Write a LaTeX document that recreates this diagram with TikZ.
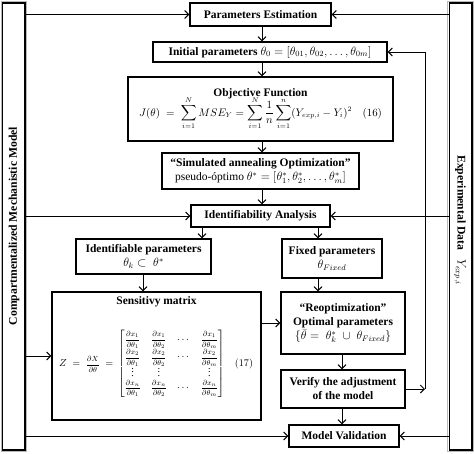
\documentclass[tikz,border=0pt]{standalone}
\usepackage{amsmath}
\usepackage{graphicx}
\usepackage{fontspec}
\setmainfont{Liberation Serif}
\usetikzlibrary{arrows.meta}
\newcommand{\pfr}[2]{\text{\fontsize{8.5}{10}\selectfont$\dfrac{#1}{#2}$}}
\begin{document}
\begin{tikzpicture}[x=1pt,y=-1pt,
  box/.style={draw, line width=1.3pt, rectangle, inner sep=0pt, align=center,
    font=\fontsize{11.5}{14}\selectfont\bfseries},
  txt/.style={inner sep=0pt, align=center, font=\fontsize{11.5}{14}\selectfont\bfseries},
  bar/.style={draw, line width=1.5pt, rectangle, inner sep=0pt,
    minimum width=22.5pt, minimum height=447pt},
  bartext/.style={font=\fontsize{11.7}{13}\selectfont\bfseries, inner sep=0pt},
  arr/.style={-{Straight Barb[length=4pt,width=8pt,line width=1pt]}, line width=1pt}]
\useasboundingbox (0,0) rectangle (474,453);
% side bars
\draw[gray!55, line width=1pt] (1,1.5) rectangle (26.5,451.5);
\draw[gray!55, line width=1pt] (447.5,1.5) rectangle (473.5,451.5);
\node[bar] (LB) at (13.75,226.5) {};
\node[bar] (RB) at (460.5,226.5) {};
\node[bartext, rotate=90] (LT) at (14,226) {Compartmentalized Mechanistic Model};
\node[bartext, rotate=-90] (RT) at (460,220) {Experimental Data \ \ $Y_{exp,i}$};
% boxes
\node[box, minimum width=141pt, minimum height=23pt] (PE) at (260.5,14.5) {Parameters Estimation};
\node[box, minimum width=234pt, minimum height=20pt] (IP) at (270,52)
  {Initial parameters $\theta_0=[\theta_{01},\theta_{02},\dots,\theta_{0m}]$};
\node[box, minimum width=265pt, minimum height=64pt] (OF) at (260.5,109)
  {Objective Function\\[-3pt]
   {\fontsize{10.5}{12}\selectfont$\displaystyle J(\theta)\;=\;\sum_{i=1}^{N} MSE_Y=\sum_{i=1}^{N}\frac{1}{n}\sum_{i=1}^{n}(Y_{exp,i}-Y_i)^2\quad(16)$}};
\node[box, minimum width=197pt, minimum height=36pt] (SA) at (260.5,171)
  {``Simulated annealing Optimization''\\
   \mdseries pseudo-óptimo $\theta^*=[\theta_1^*,\theta_2^*,\dots,\theta_m^*]$};
\node[box, minimum width=139pt, minimum height=22pt] (IA) at (260.5,216) {Identifiability Analysis};
\node[box, minimum width=135pt, minimum height=35pt] (ID) at (143.5,256.5)
  {Identifiable parameters\\ $\theta_k\subset\;\theta^*$};
\node[box, minimum width=100pt, minimum height=39pt] (FX) at (332,258.5)
  {Fixed parameters\\ $\theta_{Fixed}$};
\node[box, minimum width=209pt, minimum height=128pt] (SM) at (156.5,356) {};
\node[txt] (SMT) at (156.5,302) {Sensitivy matrix};
\node[txt, font=\fontsize{11}{13}\selectfont] (SME) at (156,364)
  {\resizebox{194pt}{!}{$Z\;=\;\pfr{\partial X}{\partial\theta}\;=\,
   {\renewcommand{\arraystretch}{1.3}\setlength{\arraycolsep}{5.5pt}\begin{bmatrix}
   \pfr{\partial x_1}{\partial\theta_1} & \pfr{\partial x_1}{\partial\theta_2} & \cdots & \pfr{\partial x_1}{\partial\theta_m}\\
   \pfr{\partial x_2}{\partial\theta_1} & \pfr{\partial x_2}{\partial\theta_2} & \cdots & \pfr{\partial x_2}{\partial\theta_m}\\[-4pt]
   \vdots & \vdots & & \vdots\\[-2pt]
   \pfr{\partial x_n}{\partial\theta_1} & \pfr{\partial x_n}{\partial\theta_2} & \cdots & \pfr{\partial x_n}{\partial\theta_m}
   \end{bmatrix}}\quad(17)$}};
\node[box, minimum width=124pt, minimum height=62pt] (RO) at (343,323)
  {``Reoptimization''\\ Optimal parameters\\ $\{\bar\theta=\;\theta_k^*\;\cup\;\theta_{Fixed}\}$};
\node[box, minimum width=124pt, minimum height=38pt] (VE) at (343,389)
  {Verify the adjustment\\ of the model};
\node[box, minimum width=110pt, minimum height=22pt] (MV) at (344,436) {Model Validation};
% helper coordinates
\coordinate (cx1) at (262,0);
\coordinate (cx2) at (202,0);
\coordinate (cx3) at (318,0);
\coordinate (cx4) at (143,0);
\coordinate (cx5) at (342,0);
\coordinate (cr) at (425,389);
\coordinate (cy1) at (0,323);
% bar arrows
\draw[arr] (LB.east |- PE.west) -- (PE.west);
\draw[arr] (RB.west |- PE.east) -- (PE.east);
\draw[arr] (LB.east |- IA.west) -- (IA.west);
\draw[arr] (RB.west |- IA.east) -- (IA.east);
\draw[arr] (LB.east |- SM.west) -- (SM.west);
\draw[arr] (LB.east |- MV.west) -- (MV.west);
\draw[arr] (RB.west |- MV.east) -- (MV.east);
% main flow
\draw[arr] (cx1 |- PE.south) -- (cx1 |- IP.north);
\draw[arr] (cx1 |- IP.south) -- (cx1 |- OF.north);
\draw[arr] (cx1 |- OF.south) -- (cx1 |- SA.north);
\draw[arr] (cx1 |- SA.south) -- (cx1 |- IA.north);
\draw[arr] (cx2 |- IA.south) -- (cx2 |- ID.north);
\draw[arr] (cx3 |- IA.south) -- (cx3 |- FX.north);
\draw[arr] (cx4 |- ID.south) -- (cx4 |- SM.north);
\draw[arr] (cx3 |- FX.south) -- (cx3 |- RO.north);
\draw[arr] (SM.east |- cy1) -- (RO.west |- cy1);
\draw[arr] (cx5 |- RO.south) -- (cx5 |- VE.north);
\draw[arr] (cx5 |- VE.south) -- (cx5 |- MV.north);
% feedback
\draw[arr] (VE.east |- cr) -- (cr);
\draw[arr] (cr) -- (cr |- IP.east) -- (IP.east);
\end{tikzpicture}
\end{document}
